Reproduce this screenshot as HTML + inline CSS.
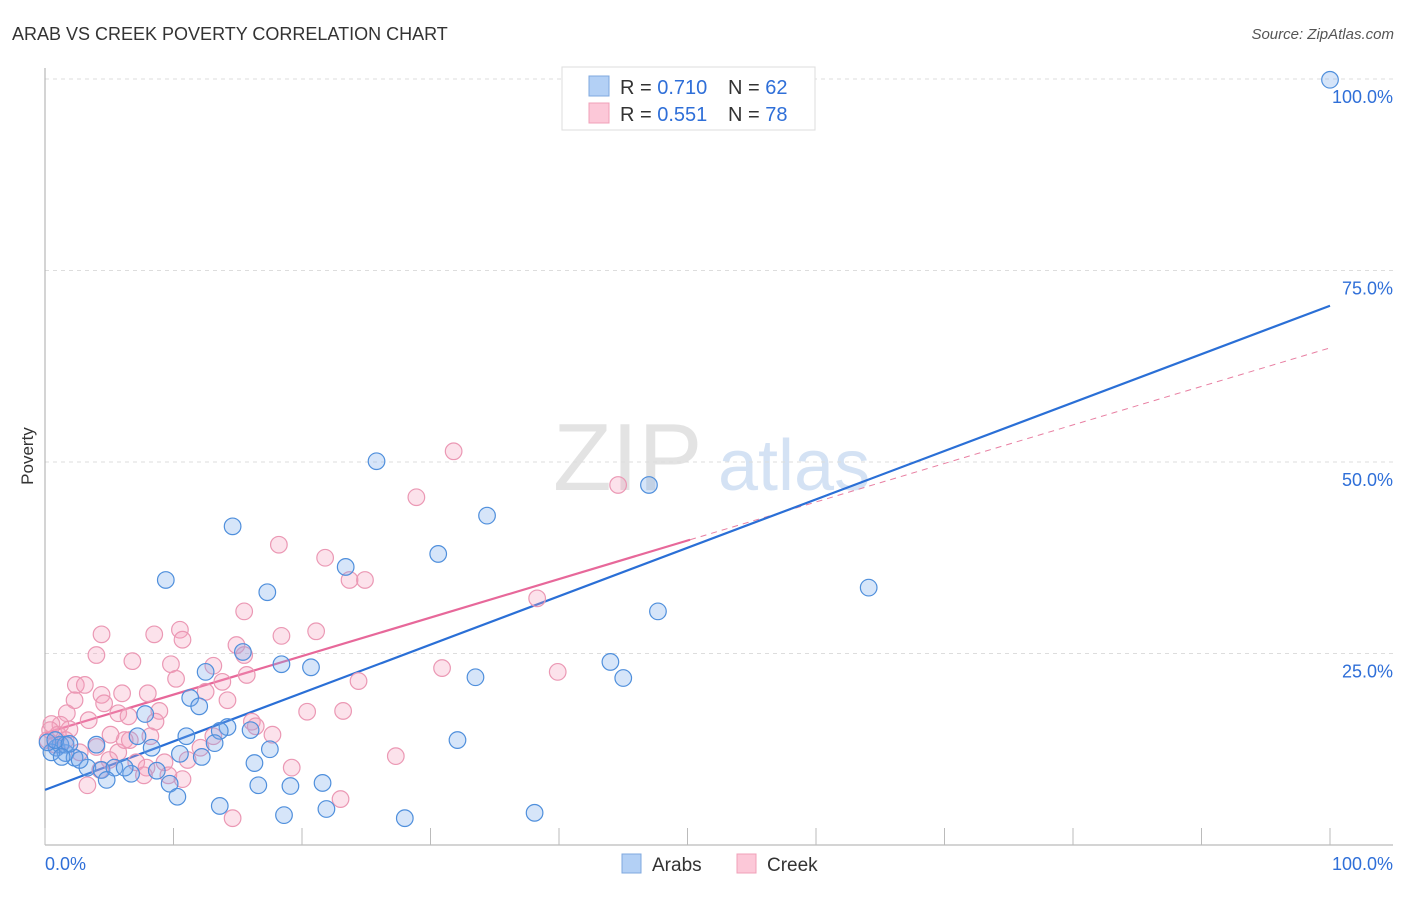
<!DOCTYPE html>
<html><head><meta charset="utf-8"><style>
body{margin:0;background:#fff;font-family:"Liberation Sans",sans-serif}
svg text{font-family:"Liberation Sans",sans-serif}
</style></head><body>
<svg id="c" width="1406" height="892" viewBox="0 0 1406 892">
<text x="12" y="40" font-size="18" fill="#333">ARAB VS CREEK POVERTY CORRELATION CHART</text>
<text x="1394" y="39" font-size="15" fill="#555" font-style="italic" text-anchor="end">Source: ZipAtlas.com</text>
<text x="33" y="456" font-size="17" fill="#333" text-anchor="middle" transform="rotate(-90 33 456)">Poverty</text>
<g opacity="0.5">
<text x="553" y="490" font-size="96" fill="#c8c8c8" font-family="Liberation Serif,serif">ZIP</text>
<text x="718" y="490" font-size="72" fill="#aac6ea">atlas</text>
</g>
<g id="grid"></g><g id="axes"></g><g id="lines"></g><g id="pts"></g>
<g>
<rect x="562" y="67" width="253" height="63" fill="#fff" stroke="#ddd"/>
<rect x="589" y="76" width="20" height="20" fill="#b3d0f5" stroke="#7fa8df"/>
<rect x="589" y="103" width="20" height="20" fill="#fcc8d8" stroke="#f0a0b8"/>
<text x="620" y="94" font-size="20" fill="#333">R = <tspan fill="#2f6fd8">0.710</tspan></text>
<text x="728" y="94" font-size="20" fill="#333">N = <tspan fill="#2f6fd8">62</tspan></text>
<text x="620" y="121" font-size="20" fill="#333">R = <tspan fill="#2f6fd8">0.551</tspan></text>
<text x="728" y="121" font-size="20" fill="#333">N = <tspan fill="#2f6fd8">78</tspan></text>
</g>
<g>
<rect x="622" y="854" width="19" height="19" fill="#b3d0f5" stroke="#7fa8df"/>
<text x="652" y="871" font-size="19" fill="#333">Arabs</text>
<rect x="737" y="854" width="19" height="19" fill="#fcc8d8" stroke="#f0a0b8"/>
<text x="767" y="871" font-size="19" fill="#333">Creek</text>
</g>
</svg>
<script>
const xTicks=[0,10,20,30,40,50,60,70,80,90,100];
const yTicks=[25,50,75,100];
const yTickLabels=["25.0%","50.0%","75.0%","100.0%"];
const xEndLabels=["0.0%","100.0%"];
const arabX=[100,25.8,47.0,14.6,34.4,30.6,23.4,9.4,17.3,47.7,64.1,15.4,18.4,20.7,44.0,33.5,45.0,12.5,11.3,12.0,7.8,14.2,13.6,16.0,7.2,11.0,13.2,4.0,8.3,17.5,10.5,16.3,12.2,32.1,0.9,1.6,2.3,1.2,0.5,3.3,4.4,5.4,4.8,6.7,6.2,8.7,9.7,21.6,16.6,19.1,10.3,13.6,18.6,21.9,28.0,38.1,1.6,2.7,0.2,0.8,1.9,1.3];
const arabY=[99.9,50.1,47.0,41.6,43.0,38.0,36.3,34.6,33.0,30.5,33.6,25.2,23.6,23.2,23.9,21.9,21.8,22.6,19.2,18.1,17.1,15.4,14.9,15.0,14.2,14.2,13.3,13.1,12.7,12.5,11.9,10.7,11.5,13.7,12.7,12.0,11.4,13.1,12.1,10.1,9.8,10.1,8.5,9.3,10.1,9.7,8.0,8.1,7.8,7.7,6.3,5.1,3.9,4.7,3.5,4.2,13.1,11.1,13.4,13.7,13.2,11.5];
const creekX=[31.8,28.9,44.6,18.2,21.8,23.7,24.9,38.3,15.5,4.4,8.5,10.5,10.7,18.4,21.1,4.0,6.8,9.8,14.9,15.5,13.1,39.9,30.9,24.4,2.4,3.1,2.3,4.4,6.0,8.0,10.2,12.5,13.8,4.6,14.2,15.7,8.9,1.7,3.4,5.7,6.5,8.6,20.4,23.2,16.1,16.4,1.9,1.2,0.5,1.0,6.6,8.2,13.1,17.7,4.0,5.7,2.7,5.0,7.1,7.9,9.3,11.1,9.6,10.7,7.7,19.2,27.3,3.3,14.6,23.0,0.2,0.8,0.4,1.6,6.2,12.1,5.1,4.3];
const creekY=[51.4,45.4,47.0,39.2,37.5,34.6,34.6,32.2,30.5,27.5,27.5,28.1,26.8,27.3,27.9,24.8,24.0,23.6,26.1,24.8,23.4,22.6,23.1,21.4,20.9,20.9,18.9,19.6,19.8,19.8,21.7,20.0,21.3,18.5,18.9,22.2,17.5,17.2,16.3,17.2,16.8,16.1,17.4,17.5,16.1,15.5,15.1,15.7,15.8,14.4,13.7,14.2,14.2,14.4,12.8,12.1,12.1,11.1,10.8,10.1,10.8,11.1,9.1,8.6,9.1,10.1,11.6,7.8,3.5,6.0,13.7,13.1,15.0,13.7,13.7,12.7,14.4,9.8];
const arabTrend=[7.2,70.4];
const creekTrend=[14.6,64.9];
const creekSolidEnd=[50.2];
const NS="http://www.w3.org/2000/svg";
const X=v=>45+v*12.85, Y=v=>845-v*7.66;
function mk(t,a,p){const e=document.createElementNS(NS,t);for(const k in a)e.setAttribute(k,a[k]);p.appendChild(e);return e;}
const grid=document.getElementById('grid'),axes=document.getElementById('axes'),lines=document.getElementById('lines'),pts=document.getElementById('pts');
yTicks.forEach((v,i)=>{const l=mk('line',{x1:45,x2:1393,y1:Y(v),y2:Y(v),stroke:'#ddd','stroke-dasharray':'4,4'},grid);


const t=mk('text',{x:1393,y:Y(v)+24,'font-size':18,fill:'#2f6fd8','text-anchor':'end'},axes);t.textContent=yTickLabels[i];

});
const ax=mk('line',{x1:45,x2:1393,y1:845,y2:845,stroke:'#aaa'},axes);


const ay=mk('line',{x1:45,x2:45,y1:68,y2:845,stroke:'#aaa'},axes);


xTicks.forEach(v=>{const l=mk('line',{x1:X(v),x2:X(v),y1:828,y2:845,stroke:'#bbb'},axes);

});
[[0,'start',45],[100,'end',1393]].forEach((d,i)=>{const t=mk('text',{x:d[2],y:870,'font-size':18,fill:'#2f6fd8','text-anchor':d[1]},axes);t.textContent=xEndLabels[i];

});
function dots(xs,ys,fill,stroke,name){xs.forEach((x,i)=>{const c=mk('circle',{cx:X(x),cy:Y(ys[i]),r:8.3,fill:fill,stroke:stroke,'stroke-width':1.2},pts);

});}
dots(creekX,creekY,'rgba(246,160,190,0.3)','#eb98b4','creek-point');
dots(arabX,arabY,'rgba(120,170,235,0.3)','#4f8fdc','arab-point');
const tl=(a,b)=>a[0]+(a[1]-a[0])*b/100;
const cd=mk('line',{x1:X(creekSolidEnd[0]),y1:Y(tl(creekTrend,creekSolidEnd[0])),x2:X(100),y2:Y(tl(creekTrend,100)),stroke:'#e87fa2','stroke-width':1,'stroke-dasharray':'6,5'},lines);


const ab=mk('line',{x1:X(0),y1:Y(tl(arabTrend,0)),x2:X(100),y2:Y(tl(arabTrend,100)),stroke:'#2a6fd6','stroke-width':2.2},lines);


const cs=mk('line',{x1:X(0),y1:Y(tl(creekTrend,0)),x2:X(creekSolidEnd[0]),y2:Y(tl(creekTrend,creekSolidEnd[0])),stroke:'#e7689a','stroke-width':2.2},lines);


</script>
</body></html>
